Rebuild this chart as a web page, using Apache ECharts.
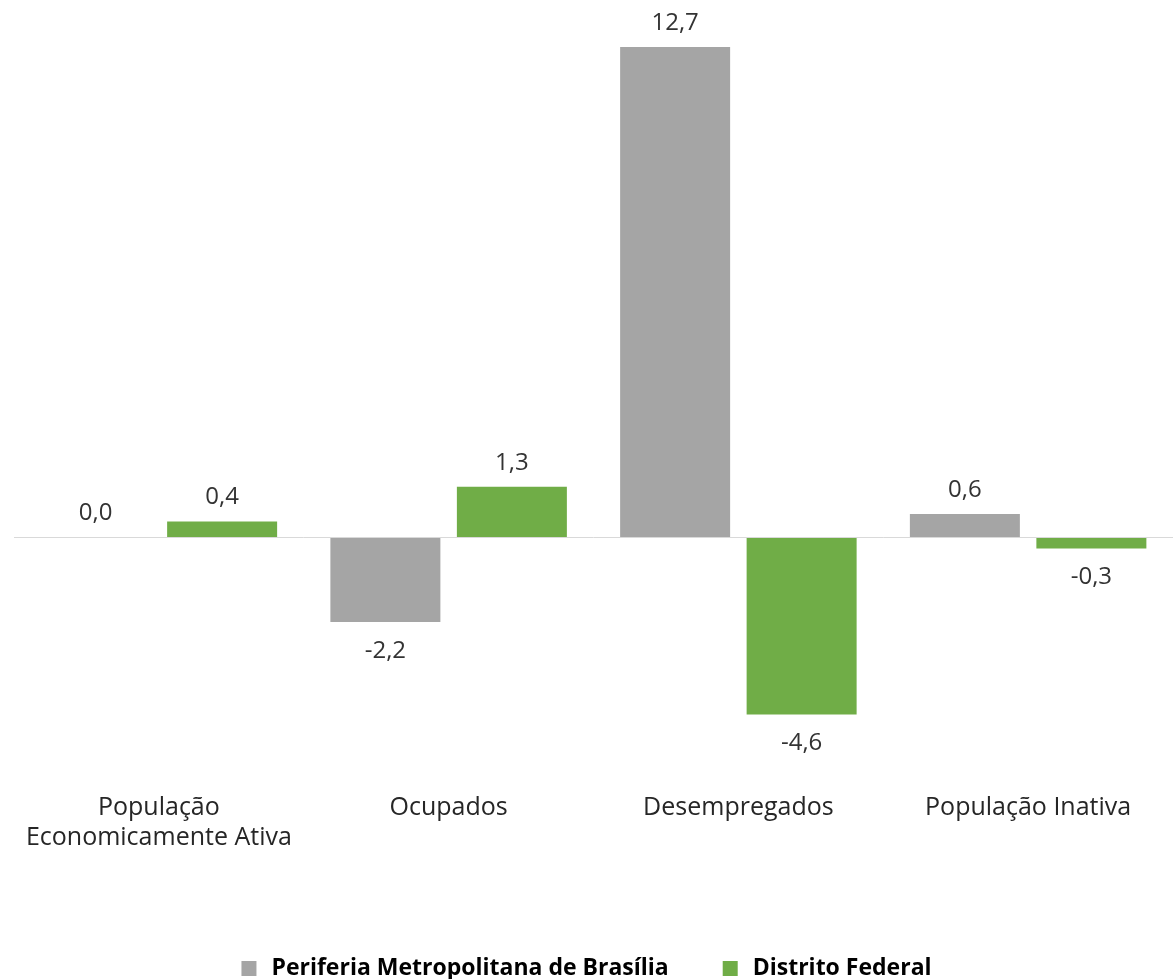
<!DOCTYPE html>
<html><head><meta charset="utf-8">
<script src="https://cdn.jsdelivr.net/npm/echarts@6/dist/echarts.min.js"></script>
<style>html,body{margin:0;padding:0;background:#fff}#c{width:1173px;height:979px}</style>
</head><body><div id="c"></div>
<script>
const categories = ['População\nEconomicamente Ativa', 'Ocupados', 'Desempregados', 'População Inativa'];
const periferia = [0.0, -2.2, 12.7, 0.6];
const distrito = [0.4, 1.3, -4.6, -0.3];
const seriesNames = ['Periferia Metropolitana de Brasília', 'Distrito Federal'];

const FONT = '"Open Sans", "Noto Sans", sans-serif';
function fmt(v) { return v.toFixed(1).replace('.', ','); }
function mk(vals) {
  return vals.map(v => ({
    value: v,
    label: v < 0 ? { position: 'bottom', distance: 15 } : { position: 'top', distance: 10 }
  }));
}
const labelStyle = { show: true, fontSize: 24, lineHeight: 28, color: '#333', fontFamily: FONT, formatter: p => fmt(p.value) };
const chart = echarts.init(document.getElementById('c'));
chart.setOption({
  animation: false,
  textStyle: { fontFamily: FONT },
  grid: { left: 14, right: -7, top: 35.5, height: 733 },
  legend: {
    top: 952, left: 'center', itemWidth: 15, itemHeight: 15, itemGap: 54,
    icon: 'rect',
    textStyle: { fontFamily: FONT, fontSize: 23, fontWeight: 'bold', color: '#000', padding: [0, 0, 0, 10] },
    data: seriesNames
  },
  xAxis: {
    type: 'category', data: categories,
    axisLine: { show: false }, axisTick: { show: false },
    axisLabel: { interval: 0, margin: 24, fontSize: 25, color: '#262626', lineHeight: 30, fontFamily: FONT }
  },
  yAxis: {
    type: 'value', min: -6, max: 13, show: false, splitLine: { show: false }
  },
  series: [
    {
      name: seriesNames[0], type: 'bar', data: mk(periferia), barWidth: 110, barGap: '15%',
      itemStyle: { color: '#A5A5A5' },
      label: labelStyle,
      markLine: {
        silent: true, symbol: 'none', label: { show: false },
        lineStyle: { color: '#d9d9d9', type: 'solid', width: 1 },
        data: [{ yAxis: 0 }]
      },
      z: 3
    },
    {
      name: seriesNames[1], type: 'bar', data: mk(distrito), barWidth: 110, barGap: '15%',
      itemStyle: { color: '#70AD47' },
      label: labelStyle,
      z: 3
    }
  ]
});
</script></body></html>
